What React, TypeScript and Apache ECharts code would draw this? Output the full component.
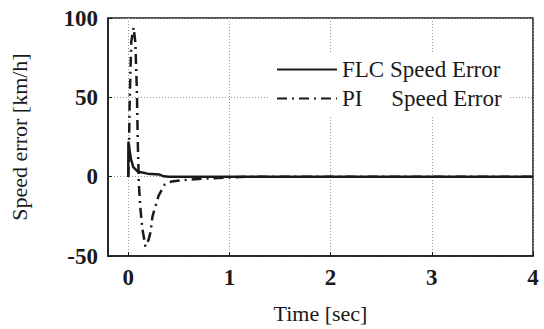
import React, { useEffect, useRef } from "react";
import * as echarts from "echarts";

const flcTime = [0, 0.002, 0.01, 0.027, 0.05, 0.092, 0.19, 0.31, 0.35, 0.4, 1, 2, 3, 4];
const flcError = [0, 22, 18, 11, 6, 3.3, 1.9, 1.3, 0.2, 0, 0, 0, 0, 0];
const piTime = [0, 0.005, 0.015, 0.03, 0.053, 0.07, 0.085, 0.095, 0.105, 0.12, 0.14, 0.17, 0.2, 0.22, 0.24, 0.3, 0.36, 0.43, 0.58, 0.74, 1, 1.2, 2, 3, 4];
const piError = [0, 10, 50, 85, 94, 85, 55, 20, -5, -20, -33, -44, -40, -35, -25, -12, -5, -3, -2, -1.3, -0.5, 0, 0, 0, 0];
const xTicks = [0, 1, 2, 3, 4];
const seriesNames = ["FLC Speed Error", "PI     Speed Error"];

const serif = "Liberation Serif";
const ink = "#1a1a1a";

export default function App() {
  const ref = useRef<HTMLDivElement>(null);
  useEffect(() => {
    if (!ref.current) return;
    const chart = echarts.init(ref.current, null, { renderer: "svg" });
    chart.setOption({
      animation: false,
      backgroundColor: "#fff",
      grid: {
        left: 100,
        right: 11,
        top: 18,
        bottom: 72,
        show: true,
        borderColor: ink,
        borderWidth: 1.5,
        backgroundColor: "transparent",
      },
      legend: {
        orient: "vertical",
        left: 268,
        top: 52,
        itemWidth: 60,
        itemHeight: 14,
        itemGap: 6,
        padding: [6, 8, 6, 8],
        backgroundColor: "#fff",
        itemStyle: { opacity: 0 },
        textStyle: { fontFamily: serif, fontSize: 23, color: ink },
        data: seriesNames,
      },
      xAxis: {
        type: "value",
        min: -0.2,
        max: 4,
        name: "Time [sec]",
        nameLocation: "middle",
        nameGap: 46,
        nameTextStyle: { fontFamily: serif, fontSize: 22, color: ink },
        axisLine: { show: true, onZero: false, lineStyle: { color: ink, width: 1.5 } },
        axisTick: { show: true, inside: true, length: 4, customValues: xTicks, lineStyle: { color: ink } },
        axisLabel: { customValues: xTicks, fontFamily: serif, fontSize: 23, fontWeight: "bold", color: ink, margin: 10 },
        splitLine: { show: true, lineStyle: { color: "#999", type: [1, 2], width: 1 } },
      },
      yAxis: {
        type: "value",
        min: -50,
        max: 100,
        interval: 50,
        name: "Speed error [km/h]",
        nameLocation: "middle",
        nameGap: 78,
        nameTextStyle: { fontFamily: serif, fontSize: 22, color: ink },
        axisLine: { show: true, onZero: false, lineStyle: { color: ink, width: 1.5 } },
        axisTick: { show: true, inside: true, length: 4, lineStyle: { color: ink } },
        axisLabel: { fontFamily: serif, fontSize: 23, fontWeight: "bold", color: ink, margin: 10 },
        splitLine: { show: true, lineStyle: { color: "#999", type: [1, 2], width: 1 } },
      },
      series: [
        {
          name: seriesNames[0],
          type: "line",
          symbol: "none",
          data: flcTime.map((t, i) => [t, flcError[i]]),
          lineStyle: { color: ink, width: 2.5 },
          itemStyle: { color: ink },
          z: 3,
        },
        {
          name: seriesNames[1],
          type: "line",
          symbol: "none",
          data: piTime.map((t, i) => [t, piError[i]]),
          lineStyle: { color: ink, width: 2.5, type: [10, 5, 2, 5] },
          itemStyle: { color: ink },
          z: 2,
        },
      ],
    });
    return () => chart.dispose();
  }, []);
  return <div ref={ref} style={{ position: "absolute", left: 0, top: 0, width: 544, height: 329 }} />;
}
